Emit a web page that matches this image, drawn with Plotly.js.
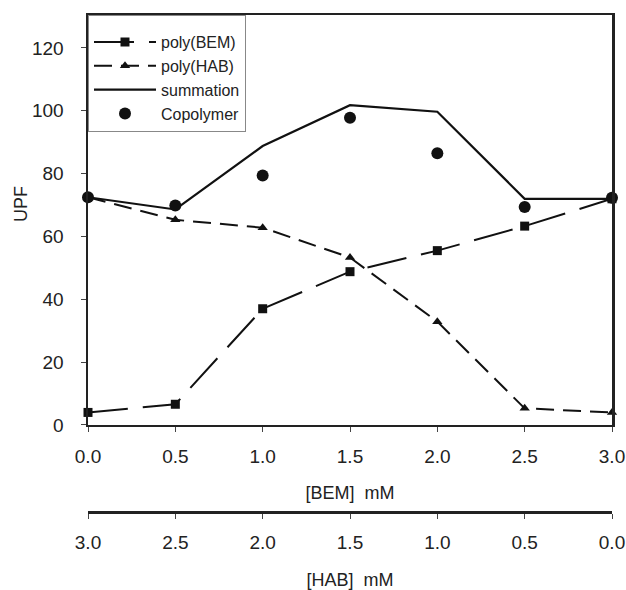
<!DOCTYPE html>
<html>
<head>
<meta charset="utf-8">
<script src="https://cdn.plot.ly/plotly-3.0.1.min.js"></script>
<style>html,body{margin:0;padding:0;background:#fff;}</style>
</head>
<body>
<div id="chart" style="width:626px;height:590px;"></div>
<script>
// BEM concentration (mM)
const bemX = [0, 0.5, 1.0, 1.5, 2.0, 2.5, 3.0];
// HAB tick labels for the secondary axis (HAB = 3 - BEM)
const habTickVals = [3.0, 2.5, 2.0, 1.5, 1.0, 0.5, 0.0];
const habTickText = ["3.0", "2.5", "2.0", "1.5", "1.0", "0.5", "0.0"];
const bemTickVals = [0, 0.5, 1.0, 1.5, 2.0, 2.5, 3.0];
const bemTickText = ["0.0", "0.5", "1.0", "1.5", "2.0", "2.5", "3.0"];
const yTickVals = [0, 20, 40, 60, 80, 100, 120];

// UPF values
const polyBEM = [4.0, 6.6, 37.0, 48.8, 55.5, 63.3, 72.0];
const polyHAB = [72.5, 65.3, 62.8, 53.3, 32.9, 5.3, 4.0];
const summation = [72.5, 68.6, 88.8, 101.8, 99.7, 72.0, 72.0];
const copolymer = [72.5, 69.9, 79.4, 97.8, 86.5, 69.4, 72.3];

const FONT = '"Liberation Sans", Arial, sans-serif';
const INK = '#111111';

const traces = [
  {x: bemX, y: polyBEM, name: 'poly(BEM)', type: 'scatter', mode: 'lines+markers',
   line: {color: INK, width: 2, dash: '40px,15px'},
   marker: {symbol: 'square', size: 9, color: INK}, cliponaxis: false},
  {x: bemX, y: polyHAB, name: 'poly(HAB)', type: 'scatter', mode: 'lines+markers',
   line: {color: INK, width: 2, dash: '18px,9px'},
   marker: {symbol: 'triangle-up', size: 9, color: INK}, cliponaxis: false},
  {x: bemX, y: summation, name: 'summation', type: 'scatter', mode: 'lines',
   line: {color: INK, width: 2.2}, cliponaxis: false},
  {x: bemX, y: copolymer, name: 'Copolymer', type: 'scatter', mode: 'markers',
   marker: {symbol: 'circle', size: 12, color: INK}, cliponaxis: false},
  // invisible helper trace so the secondary HAB axis is drawn
  {x: habTickVals, y: [0,0,0,0,0,0,0], xaxis: 'x2', yaxis: 'y2', type: 'scatter', mode: 'none',
   showlegend: false, hoverinfo: 'skip'}
];

const layout = {
  width: 626, height: 590,
  margin: {l: 88, r: 14, t: 15, b: 79},
  paper_bgcolor: '#fff', plot_bgcolor: '#fff',
  font: {family: FONT, color: '#222', size: 19},
  showlegend: true,
  legend: {x: 0, y: 1, xanchor: 'left', yanchor: 'top',
    bgcolor: '#fff', bordercolor: '#888', borderwidth: 1,
    font: {family: FONT, size: 16, color: '#222'},
    title: {text: ' ', font: {size: 7}},
    itemwidth: 62, tracegroupgap: 0},
  annotations: [
    {text: 'UPF', xref: 'paper', yref: 'paper', x: -0.127, y: 0.62,
     xanchor: 'center', yanchor: 'middle', textangle: -90, showarrow: false,
     font: {family: FONT, size: 18, color: '#222'}}
  ],
  xaxis: {range: [0, 3], tickvals: bemTickVals, ticktext: bemTickText,
    showgrid: false, zeroline: false, showline: true, linecolor: '#222', linewidth: 2.5,
    mirror: true, ticks: 'outside', ticklen: 5, tickwidth: 1, tickcolor: '#444',
    tickfont: {family: FONT, size: 19, color: '#222'},
    ticklabelstandoff: 8,
    title: {text: '[BEM]\u00a0 mM', font: {family: FONT, size: 18, color: '#222'}, standoff: 20},
    anchor: 'y'},
  yaxis: {range: [0, 130.5], domain: [0.1734, 1], tickvals: yTickVals,
    showgrid: false, zeroline: false, showline: true, linecolor: '#222', linewidth: 2.5,
    mirror: true, ticks: 'outside', ticklen: 5, tickwidth: 1, tickcolor: '#444',
    tickfont: {family: FONT, size: 19, color: '#222'},
    ticklabelstandoff: 13,
    anchor: 'x'},
  xaxis2: {range: [3, 0], tickvals: habTickVals, ticktext: habTickText,
    showgrid: false, zeroline: false, showline: true, linecolor: '#222', linewidth: 2.5,
    ticks: 'outside', ticklen: 5, tickwidth: 1, tickcolor: '#444',
    tickfont: {family: FONT, size: 19, color: '#222'},
    ticklabelstandoff: 8,
    title: {text: '[HAB]\u00a0 mM', font: {family: FONT, size: 18, color: '#222'}, standoff: 22},
    anchor: 'y2'},
  yaxis2: {domain: [0, 0.002], range: [0, 1], visible: false, anchor: 'x2'}
};

Plotly.newPlot('chart', traces, layout, {displayModeBar: false, staticPlot: true});
</script>
</body>
</html>
